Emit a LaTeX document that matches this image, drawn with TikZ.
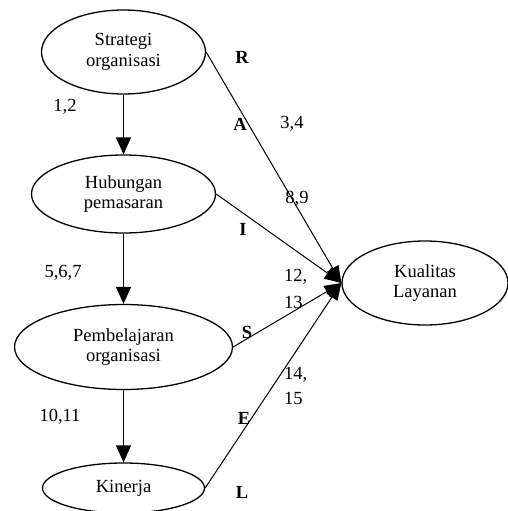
\documentclass[tikz,border=0pt]{standalone}
\usepackage{fontspec}
\setmainfont{Liberation Serif}
\usetikzlibrary{arrows.meta,shapes.geometric}
\begin{document}
\begin{tikzpicture}[x=1pt,y=-1pt,
  every node/.style={font=\fontsize{18.5}{20.5}\selectfont},
  oval/.style={ellipse,draw,line width=1.3pt,inner sep=0pt,align=center},
  lbl/.style={inner sep=0pt},
  blbl/.style={inner sep=0pt,font=\fontsize{18.5}{20.5}\selectfont\bfseries},
  down/.style={line width=1.4pt,-{Triangle[length=17pt,width=15pt]}},
  diag/.style={line width=1pt,-{Triangle[length=17pt,width=13pt]}}]
\useasboundingbox (0,0) rectangle (508,511);
\node[oval,minimum width=164pt,minimum height=84pt] (s) at (123.5,52) {Strategi\\organisasi};
\node[oval,minimum width=184pt,minimum height=78pt] (h) at (123.5,194) {Hubungan\\pemasaran};
\node[oval,minimum width=218pt,minimum height=85pt] (p) at (123.5,347) {Pembelajaran\\organisasi};
\node[oval,minimum width=162pt,minimum height=50pt] (kn) at (123.5,488) {Kinerja};
\node[oval,minimum width=166pt,minimum height=84pt] (kl) at (425,283) {Kualitas\\Layanan};
\draw[down] (s) -- (h);
\draw[down] (h) -- (p);
\draw[down] (p) -- (kn);
\draw[diag] (s.east) -- (kl.west);
\draw[diag] (h.east) -- (kl.west);
\draw[diag] (p.east) -- (kl.west);
\draw[diag] (kn.east) -- (kl.west);
\node[lbl] (n12) at (65,107) {1,2};
\node[lbl] (n567) at (63,273) {5,6,7};
\node[lbl] (n1011) at (60,417) {10,11};
\node[lbl] (n34) at (292,124) {3,4};
\node[lbl] (n89) at (297,199) {8,9};
\node[lbl,anchor=west] (n12b) at (284,277) {12,};
\node[lbl,anchor=west] (n13) at (284,302) {13};
\node[lbl,anchor=west] (n14) at (284,375) {14,};
\node[lbl,anchor=west] (n15) at (284,398) {15};
\node[blbl] (lr) at (242,57) {R};
\node[blbl] (la) at (240,124) {A};
\node[blbl] (li) at (243,229) {I};
\node[blbl] (ls) at (247,332) {S};
\node[blbl] (le) at (244,418) {E};
\node[blbl] (ll) at (242,492) {L};
\end{tikzpicture}
\end{document}
